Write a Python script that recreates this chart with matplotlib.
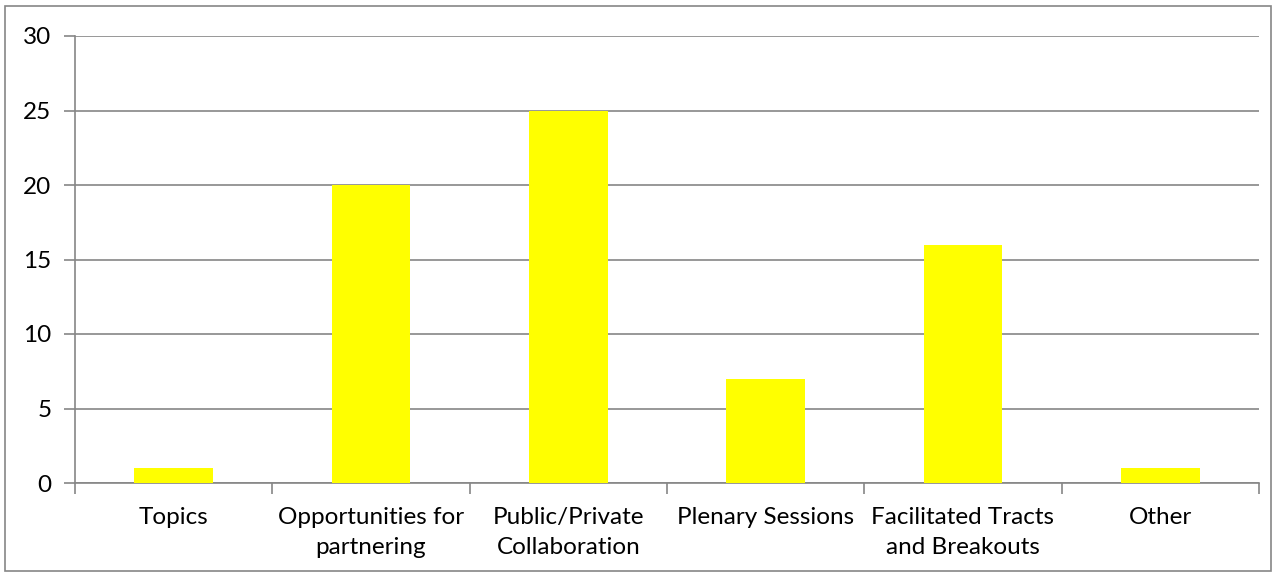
import matplotlib
matplotlib.use("Agg")
import matplotlib.pyplot as plt
from matplotlib.patches import Rectangle
import numpy as np

# ---------- DATA ----------
categories = ["Topics", "Opportunities for\npartnering", "Public/Private\nCollaboration",
              "Plenary Sessions", "Facilitated Tracts\nand Breakouts", "Other"]
counts = [1, 20, 25, 7, 16, 1]
y_ticks = [0, 5, 10, 15, 20, 25, 30]

# ---------- PLOT ----------
plt.rcParams["font.family"] = ["Lato", "DejaVu Sans"]
grey = "#868686"

fig = plt.figure(figsize=(12.77, 5.77), dpi=100)
ax = fig.add_axes([75 / 1277, 1 - 483 / 577, (1259 - 75) / 1277, (483 - 36) / 577])

x = np.arange(len(categories))
ax.bar(x, counts, width=0.4, color="#ffff00", zorder=3)

ax.set_xlim(-0.5, len(categories) - 0.5)
ax.set_ylim(0, 30)
ax.set_yticks(y_ticks)
ax.yaxis.grid(True, color=grey, lw=1.2, zorder=0)

ax.set_xticks(x)
ax.set_xticklabels(categories, fontsize=17.5, linespacing=1.55)
ax.set_xticks(np.arange(len(categories) + 1) - 0.5, minor=True)
ax.tick_params(axis="x", which="major", length=0, pad=17)
ax.tick_params(axis="x", which="minor", length=8, width=1.2, color=grey)
ax.tick_params(axis="y", length=8, width=1.2, color=grey, labelsize=17.5, pad=9)

for s in ["top", "right"]:
    ax.spines[s].set_visible(False)
for s in ["left", "bottom"]:
    ax.spines[s].set_color(grey)
    ax.spines[s].set_linewidth(1.2)

# outer chart border
fig.patches.append(Rectangle((5 / 1277, 6 / 577), 1266 / 1277, 565 / 577,
                             transform=fig.transFigure, fill=False,
                             edgecolor=grey, lw=1.2))

fig.savefig("out.png", dpi=100)
